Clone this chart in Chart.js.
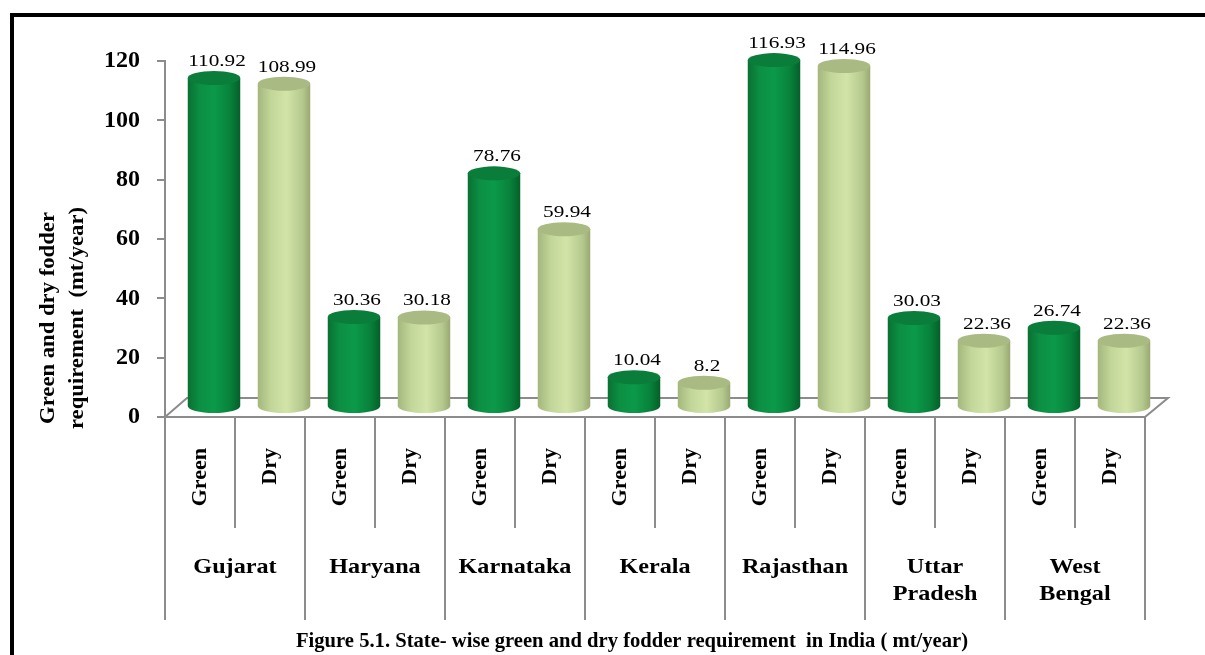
<!DOCTYPE html>
<html lang="en">
  <head>
    <title>fodder-requirement</title>
    <meta charset="utf-8" />
    <script src="https://cdn.jsdelivr.net/npm/chart.js@4.4.9/dist/chart.umd.min.js"></script>
  </head>

  <body style="padding: 0; margin: 0; background: #fff">
    <canvas id="myChart" width="1205" height="655"></canvas>

    <script>
      const states = ["Gujarat", "Haryana", "Karnataka", "Kerala", "Rajasthan", ["Uttar", "Pradesh"], ["West", "Bengal"]];
      const kinds = ["Green", "Dry"];
      const greenValues = [110.92, 30.36, 78.76, 10.04, 116.93, 30.03, 26.74];
      const dryValues = [108.99, 30.18, 59.94, 8.2, 114.96, 22.36, 22.36];
      const yTickValues = [0, 20, 40, 60, 80, 100, 120];
      const yTitle = ["Green and dry fodder", "requirement  (mt/year)"];
      const caption = "Figure 5.1. State- wise green and dry fodder requirement  in India ( mt/year)";

      const SERIF = "'Liberation Serif', 'Times New Roman', serif";
      const AXIS_GRAY = "#8c8c8c";
      // how far the columns sit back from the front edge of the floor
      const DEPTH_X = 14;
      const DEPTH_Y = 10;
      const CAP_RY = 7;

      const GREEN_BODY = [[0, "#0a7032"], [0.22, "#0c8e43"], [0.5, "#0b9a49"], [0.8, "#08823c"], [1, "#04602a"]];
      const DRY_BODY = [[0, "#a3b67c"], [0.25, "#c3d699"], [0.55, "#d2e4a8"], [0.85, "#b5c88d"], [1, "#98aa72"]];
      const GREEN_TOP = "#0a7d3a";
      const DRY_TOP = "#a9ba82";

      const labels = states.flatMap(() => kinds);
      const values = states.flatMap((_, i) => [greenValues[i], dryValues[i]]);

      function stretchedText(ctx, text, x, y, sx, maxWidth) {
        ctx.save();
        ctx.translate(x, y);
        ctx.scale(sx, 1);
        if (maxWidth) ctx.fillText(text, 0, 0, maxWidth / sx);
        else ctx.fillText(text, 0, 0);
        ctx.restore();
      }

      const fodderPlugin = {
        id: "fodder3d",
        beforeDraw(chart) {
          const { ctx, width, height } = chart;
          ctx.save();
          ctx.fillStyle = "#fff";
          ctx.fillRect(0, 0, width, height);
          // outer frame
          ctx.fillStyle = "#000";
          ctx.fillRect(10, 13, width - 10, 4);
          ctx.fillRect(10, 13, 4, height - 13);
          ctx.restore();
        },
        beforeDatasetsDraw(chart) {
          const { ctx } = chart;
          const { left, right, bottom } = chart.chartArea;
          const bx = 22, by = 19;
          ctx.save();
          ctx.strokeStyle = AXIS_GRAY;
          ctx.lineWidth = 2;
          ctx.beginPath();
          ctx.moveTo(left, bottom);
          ctx.lineTo(left + bx, bottom - by);
          ctx.lineTo(right + bx + 1, bottom - by);
          ctx.lineTo(right, bottom);
          ctx.lineTo(left, bottom);
          ctx.stroke();
          ctx.restore();
        },
        afterDatasetsDraw(chart) {
          const { ctx } = chart;
          const meta = chart.getDatasetMeta(0);
          meta.data.forEach((bar, i) => {
            const isGreen = i % 2 === 0;
            const cx = bar.x + DEPTH_X;
            const top = bar.y - DEPTH_Y;
            const base = bar.base - DEPTH_Y;
            const rx = bar.width / 2;
            const x0 = cx - rx, x1 = cx + rx;
            ctx.save();
            const g = ctx.createLinearGradient(x0, 0, x1, 0);
            (isGreen ? GREEN_BODY : DRY_BODY).forEach(([o, c]) => g.addColorStop(o, c));
            ctx.fillStyle = g;
            ctx.beginPath();
            ctx.moveTo(x0, top);
            ctx.lineTo(x0, base);
            ctx.ellipse(cx, base, rx, CAP_RY, 0, Math.PI, 0, true);
            ctx.lineTo(x1, top);
            ctx.closePath();
            ctx.fill();
            ctx.fillStyle = isGreen ? GREEN_TOP : DRY_TOP;
            ctx.beginPath();
            ctx.ellipse(cx, top, rx, CAP_RY, 0, 0, Math.PI * 2);
            ctx.fill();

            // value label above the cap
            ctx.fillStyle = "#000";
            ctx.font = `17px ${SERIF}`;
            ctx.textAlign = "center";
            ctx.textBaseline = "alphabetic";
            stretchedText(ctx, String(values[i]), cx + 3, top - CAP_RY - 5, 1.25);
            ctx.restore();
          });
        },
        afterDraw(chart) {
          const { ctx } = chart;
          const { left, right, bottom } = chart.chartArea;
          const xScale = chart.scales.x;
          const n = labels.length;
          ctx.save();
          // category separators below the floor
          ctx.strokeStyle = AXIS_GRAY;
          ctx.lineWidth = 2;
          for (let i = 0; i <= n; i++) {
            let x;
            if (i === 0) x = left;
            else if (i === n) x = right;
            else x = (xScale.getPixelForValue(i - 1) + xScale.getPixelForValue(i)) / 2;
            ctx.beginPath();
            ctx.moveTo(x, bottom);
            ctx.lineTo(x, bottom + (i % 2 === 0 ? 203 : 111));
            ctx.stroke();
          }

          // state names
          ctx.fillStyle = "#000";
          ctx.font = `bold 22px ${SERIF}`;
          ctx.textAlign = "center";
          ctx.textBaseline = "middle";
          states.forEach((name, i) => {
            const cx = (xScale.getPixelForValue(2 * i) + xScale.getPixelForValue(2 * i + 1)) / 2;
            const lines = Array.isArray(name) ? name : [name];
            lines.forEach((line, k) => stretchedText(ctx, line, cx, bottom + 150 + k * 27, 1.1));
          });

          // value axis title
          ctx.font = `bold 21px ${SERIF}`;
          yTitle.forEach((line, k) => {
            ctx.save();
            ctx.translate(49 + k * 29, 318);
            ctx.rotate(-Math.PI / 2);
            ctx.scale(1.08, 1);
            ctx.fillText(line, 0, 0);
            ctx.restore();
          });

          // caption
          ctx.font = `bold 21px ${SERIF}`;
          ctx.fillText(caption, 632, 642, 672);
          ctx.restore();
        },
      };

      new Chart(document.getElementById("myChart"), {
        type: "bar",
        data: {
          labels: labels,
          datasets: [
            {
              data: values,
              backgroundColor: "rgba(0,0,0,0)",
              borderWidth: 0,
              barPercentage: 0.75,
              categoryPercentage: 1,
            },
          ],
        },
        plugins: [fodderPlugin],
        options: {
          responsive: false,
          animation: false,
          layout: { padding: { left: 0, top: 61, right: 60, bottom: 0 } },
          plugins: {
            legend: { display: false },
            tooltip: { enabled: false },
          },
          scales: {
            x: {
              grid: { display: false, drawTicks: false },
              border: { display: false },
              ticks: {
                autoSkip: false,
                minRotation: 90,
                maxRotation: 90,
                padding: 31,
                color: "#000",
                font: { family: SERIF, size: 22, weight: "bold" },
              },
              afterFit(scale) {
                scale.height = 238;
              },
            },
            y: {
              min: yTickValues[0],
              max: yTickValues[yTickValues.length - 1],
              afterBuildTicks(scale) {
                scale.ticks = yTickValues.map((v) => ({ value: v }));
              },
              grid: {
                drawOnChartArea: false,
                tickLength: 8,
                color: AXIS_GRAY,
                lineWidth: 2,
              },
              border: { display: true, color: AXIS_GRAY, width: 2 },
              ticks: {
                padding: 17,
                color: "#000",
                font: { family: SERIF, size: 24, weight: "bold" },
              },
              afterFit(scale) {
                scale.width = 165;
              },
            },
          },
        },
      });
    </script>
  </body>
</html>
